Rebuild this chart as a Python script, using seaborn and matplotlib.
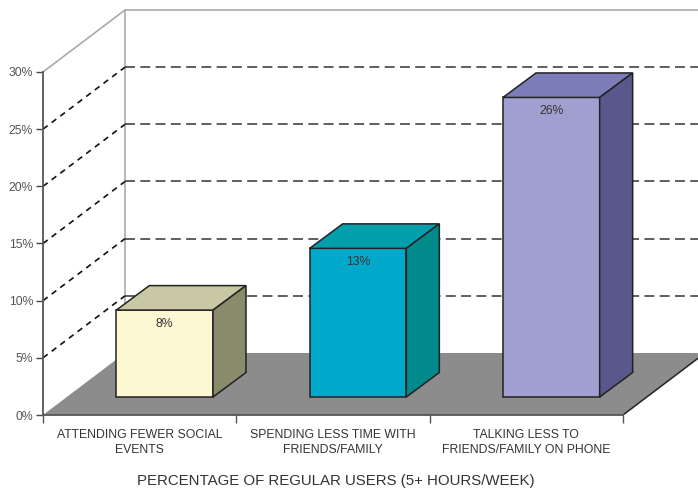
#!/usr/bin/env python3

import numpy as np
import matplotlib
matplotlib.use('Agg')
import matplotlib.pyplot as plt
from matplotlib.patches import Polygon
from matplotlib.transforms import Affine2D
import seaborn as sns

sns.set_theme(style='ticks')
plt.rcParams['font.family'] = ['Liberation Sans', 'DejaVu Sans']

categories = ['ATTENDING FEWER SOCIAL\nEVENTS',
              'SPENDING LESS TIME WITH\nFRIENDS/FAMILY',
              'TALKING LESS TO\nFRIENDS/FAMILY ON PHONE']
values = [7.6, 13.0, 26.2]
value_labels = ['8%', '13%', '26%']
y_ticks = [0, 5, 10, 15, 20, 25, 30]
x_title = 'PERCENTAGE OF REGULAR USERS (5+ HOURS/WEEK)'

front_colors = ['#fdf7d3', '#00a9c9', '#a09fcf']
top_colors = ['#c8c8a4', '#009fab', '#7c7cb8']
side_colors = ['#8a8a6c', '#008a8c', '#58588c']

# pixels per data unit, the chart is a fake 3d so depth is done by hand
px_x = 580/3
px_y = 343/30
floor_dx, floor_dy = 82/px_x, 62/px_y
bar_dx, bar_dy = 25/px_x, 18/px_y
depth_dx, depth_dy = 33/px_x, 24.5/px_y

fig = plt.figure(figsize=(6.98, 4.9), dpi=100)
ax = fig.add_axes([43/698, 75/490, 580/698, 343/490])
ax.patch.set_visible(False)

sns.barplot(x=categories, y=values, hue=categories, palette=front_colors, width=0.5,
            dodge=False, legend=False, saturation=1, ax=ax, zorder=5,
            edgecolor='#222222', linewidth=1.1)

ax.set_xlim(-0.5, 2.5)
ax.set_ylim(0, 30)

# floor
left, right = -0.5, 2.5
ax.add_patch(Polygon([(left, 0), (left+floor_dx, floor_dy), (right+floor_dx, floor_dy), (right, 0)],
                     closed=True, fc='#8c8c8c', ec='none', clip_on=False, zorder=1))
ax.plot([right, right+floor_dx], [0, floor_dy], color='#222222', lw=1.1, clip_on=False, zorder=2)

# back wall and gridlines
ax.plot([left, left+floor_dx, left+floor_dx], [30, 30+floor_dy, floor_dy],
        color='#aaaaaa', lw=1.2, clip_on=False, zorder=2)
ax.plot([left+floor_dx, right+floor_dx], [30+floor_dy, 30+floor_dy],
        color='#aaaaaa', lw=1.2, clip_on=False, zorder=2)
for v in y_ticks[1:-1]:
    ax.plot([left, left+floor_dx], [v, v+floor_dy],
            color='#111111', lw=1.2, ls=(0, (3.5, 3)), clip_on=False, zorder=2)
    ax.plot([left+floor_dx, right+floor_dx], [v+floor_dy, v+floor_dy],
            color='#333333', lw=1.1, ls=(0, (6.5, 3.5)), clip_on=False, zorder=2)

# bars sit a bit back from the front edge, then add top and side faces
shift = Affine2D().translate(bar_dx, bar_dy) + ax.transData
for i, bar in enumerate(ax.patches[:len(values)]):
    bar.set_transform(shift)
    bar.set_clip_on(False)
    x0, x1, h = bar.get_x(), bar.get_x()+bar.get_width(), bar.get_height()
    top = [(x0, h), (x1, h), (x1+depth_dx, h+depth_dy), (x0+depth_dx, h+depth_dy)]
    side = [(x1, 0), (x1+depth_dx, depth_dy), (x1+depth_dx, h+depth_dy), (x1, h)]
    for pts, col in ((top, top_colors[i]), (side, side_colors[i])):
        ax.add_patch(Polygon(pts, closed=True, fc=col, ec='#222222', lw=1.1,
                             transform=shift, clip_on=False, zorder=5))
    ax.text((x0+x1)/2, h-1.2, value_labels[i], ha='center', va='center', fontsize=8.8,
            color='#333333', transform=shift, zorder=6)

# axes
sns.despine(ax=ax, top=True, right=True)
ax.spines['left'].set_color('#555555')
ax.spines['bottom'].set_color('#555555')
ax.spines['left'].set_linewidth(1.3)
ax.spines['bottom'].set_linewidth(1.3)
for s in ax.spines.values():
    s.set_zorder(3)

ax.set_yticks(y_ticks)
ax.set_yticklabels([f'{v}%' for v in y_ticks], fontsize=8.8, color='#555555')
ax.tick_params(axis='y', length=5, width=1, color='#444444', pad=2)

ax.set_xticks([-0.5, 0.5, 1.5, 2.5])
ax.set_xticklabels([])
ax.tick_params(axis='x', which='major', length=6, width=1, color='#555555')
ax.set_xticks(np.arange(len(categories)), minor=True)
ax.set_xticklabels(categories, minor=True, fontsize=8.8, color='#333333', linespacing=1.4)
ax.tick_params(axis='x', which='minor', length=0, pad=10)

ax.set_xlabel('')
fig.text(336/698, 1-481/490, x_title, ha='center', va='center', fontsize=10.8, color='#333333')

fig.savefig('out.png', dpi=100)
